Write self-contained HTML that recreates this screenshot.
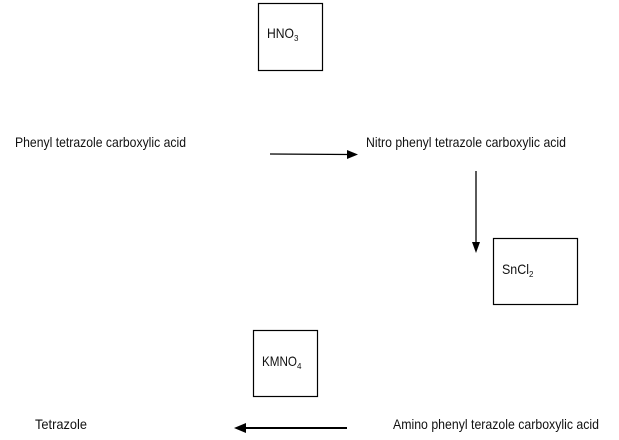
<!DOCTYPE html>
<html><head><meta charset="utf-8"><style>
html,body{margin:0;padding:0;background:#fff;}
svg{display:block;}
text{font-family:"Liberation Sans",Arial,sans-serif;font-size:14px;fill:#111;}
</style></head><body>
<svg width="619" height="440" viewBox="0 0 619 440" xmlns="http://www.w3.org/2000/svg">
<rect x="258.5" y="3.5" width="64" height="67" fill="none" stroke="#000" stroke-width="1.2"/>
<text x="267" y="38" textLength="27" lengthAdjust="spacingAndGlyphs">HNO</text>
<text x="294" y="41" style="font-size:8px">3</text>

<text x="15" y="147" textLength="171" lengthAdjust="spacingAndGlyphs">Phenyl tetrazole carboxylic acid</text>
<line x1="270" y1="154" x2="349" y2="154.5" stroke="#000" stroke-width="1.3"/>
<polygon points="347,150 358,154.5 347,159" fill="#000"/>
<text x="366" y="147" textLength="200" lengthAdjust="spacingAndGlyphs">Nitro phenyl tetrazole carboxylic acid</text>

<line x1="476" y1="171" x2="476" y2="244" stroke="#000" stroke-width="1.3"/>
<polygon points="472,242 476,253 480,242" fill="#000"/>
<rect x="493.5" y="238.5" width="84" height="66" fill="none" stroke="#000" stroke-width="1.2"/>
<text x="502" y="274" textLength="27" lengthAdjust="spacingAndGlyphs">SnCl</text>
<text x="529" y="277" style="font-size:8px">2</text>

<rect x="253.5" y="330.5" width="64" height="66" fill="none" stroke="#000" stroke-width="1.2"/>
<text x="262" y="366" textLength="35" lengthAdjust="spacingAndGlyphs">KMNO</text>
<text x="297" y="369" style="font-size:8px">4</text>

<text x="35" y="429" textLength="52" lengthAdjust="spacingAndGlyphs">Tetrazole</text>
<line x1="244" y1="428" x2="347" y2="428" stroke="#000" stroke-width="2"/>
<polygon points="246,423 234,428 246,433" fill="#000"/>
<text x="393" y="429" textLength="206" lengthAdjust="spacingAndGlyphs">Amino phenyl terazole carboxylic acid</text>
</svg>
</body></html>
